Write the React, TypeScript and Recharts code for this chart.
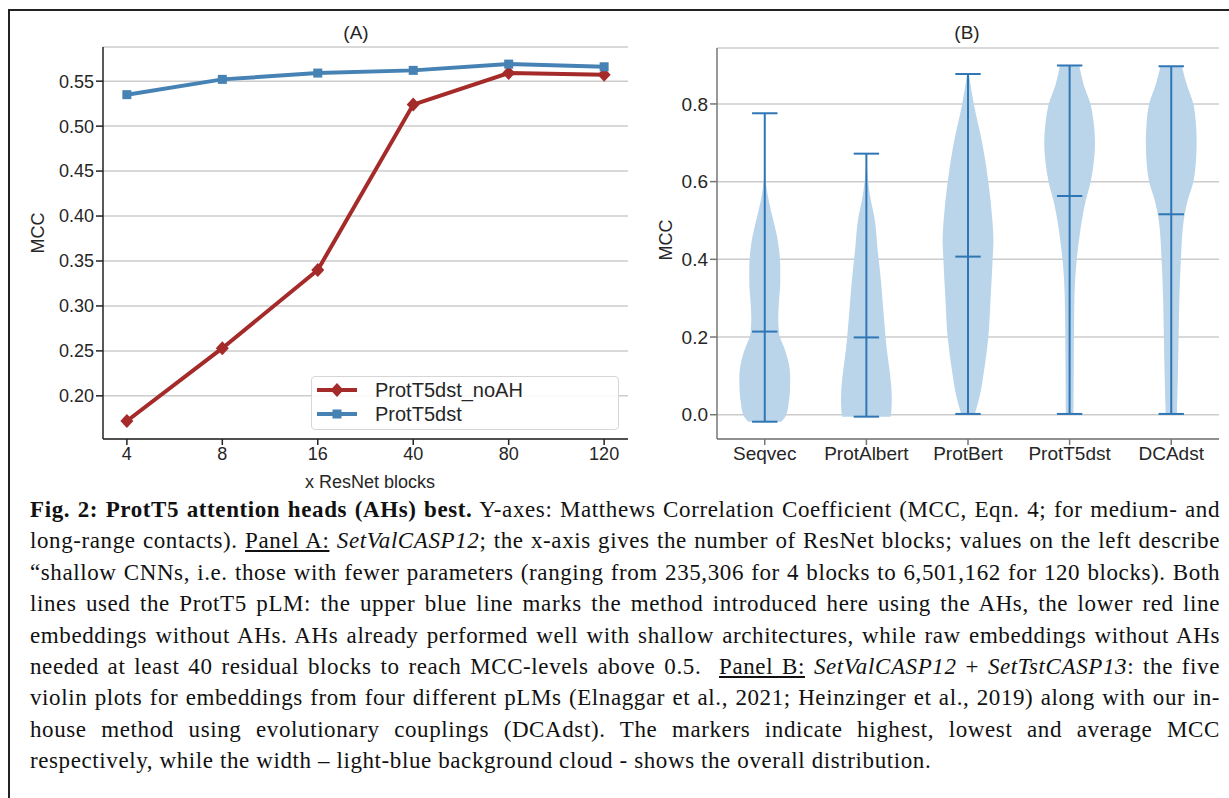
import React from 'react'
import { LineChart, Line, XAxis, YAxis, CartesianGrid, ComposedChart, Area, ReferenceLine } from 'recharts'

// Panel A: MCC vs number of ResNet blocks
const blockLabels = ['4', '8', '16', '40', '80', '120']
const noAhMcc = [0.172, 0.253, 0.34, 0.524, 0.559, 0.557]
const dstMcc = [0.535, 0.552, 0.559, 0.562, 0.569, 0.566]
const panelATicks = [0.2, 0.25, 0.3, 0.35, 0.4, 0.45, 0.5, 0.55]

// Panel B: violins (max / min / mean markers)
const violinNames = ['Seqvec', 'ProtAlbert', 'ProtBert', 'ProtT5dst', 'DCAdst']
const violinMax = [0.776, 0.672, 0.877, 0.899, 0.897]
const violinMin = [-0.018, -0.005, 0.002, 0.002, 0.002]
const violinMean = [0.214, 0.199, 0.407, 0.563, 0.516]
const panelBTicks = [0, 0.2, 0.4, 0.6, 0.8]

// density outlines, relative width (1 = widest part of that violin)
const seqvecLevels = [-0.018, 0.0, 0.03, 0.06, 0.1, 0.13, 0.17, 0.21, 0.25, 0.3, 0.34, 0.38, 0.42, 0.46, 0.51, 0.55, 0.58, 0.6, 0.64, 0.7, 0.776]
const seqvecWidth = [0.65, 0.85, 0.94, 0.99, 1.0, 0.95, 0.78, 0.56, 0.53, 0.57, 0.61, 0.61, 0.57, 0.48, 0.3, 0.16, 0.08, 0.04, 0.015, 0.005, 0.0]
const albertLevels = [-0.005, 0.0, 0.04, 0.08, 0.12, 0.17, 0.25, 0.34, 0.42, 0.51, 0.55, 0.6, 0.64, 0.672]
const albertWidth = [0.95, 0.97, 1.0, 0.97, 0.9, 0.8, 0.69, 0.58, 0.45, 0.31, 0.18, 0.07, 0.02, 0.0]
const bertLevels = [0.002, 0.05, 0.1, 0.2, 0.3, 0.4, 0.45, 0.5, 0.6, 0.7, 0.8, 0.85, 0.877]
const bertWidth = [0.27, 0.47, 0.6, 0.8, 0.89, 0.97, 1.0, 0.96, 0.8, 0.56, 0.23, 0.1, 0.04]
const t5Levels = [0.002, 0.1, 0.2, 0.3, 0.4, 0.45, 0.5, 0.55, 0.6, 0.65, 0.7, 0.75, 0.8, 0.85, 0.899]
const t5Width = [0.15, 0.16, 0.17, 0.19, 0.28, 0.37, 0.48, 0.63, 0.83, 0.95, 1.0, 0.95, 0.82, 0.55, 0.38]
const dcaLevels = [0.002, 0.1, 0.2, 0.3, 0.4, 0.5, 0.55, 0.6, 0.65, 0.7, 0.75, 0.8, 0.85, 0.897]
const dcaWidth = [0.22, 0.26, 0.29, 0.32, 0.38, 0.49, 0.64, 0.87, 0.97, 1.0, 0.97, 0.87, 0.61, 0.42]

const violinProfiles = [
  [seqvecLevels, seqvecWidth],
  [albertLevels, albertWidth],
  [bertLevels, bertWidth],
  [t5Levels, t5Width],
  [dcaLevels, dcaWidth],
]

const RED = '#a52a2a'
const BLUE = '#4682b4'
const VIOLIN_FILL = '#bad5e9'
const VIOLIN_LINE = '#2f76b5'
const GRID = '#cccccc'
const SANS = '"Liberation Sans", Arial, Helvetica, sans-serif'
const TEXT = '#262626'

const lineData = blockLabels.map((label, i) => ({ idx: i, label, noAH: noAhMcc[i], dst: dstMcc[i] }))

const violinData = violinProfiles.map(([levels, widths], i) =>
  levels.map((mcc, k) => ({ mcc, v: [i - 0.25 * widths[k], i + 0.25 * widths[k]] }))
)

const renderDiamond = (p: any) => {
  const { cx, cy, index } = p
  if (cx == null || cy == null) return <g key={`dm${index}`} />
  return <path key={`dm${index}`} d={`M${cx},${cy - 7}L${cx + 6.5},${cy}L${cx},${cy + 7}L${cx - 6.5},${cy}Z`} fill={RED} />
}

const renderSquare = (p: any) => {
  const { cx, cy, index } = p
  if (cx == null || cy == null) return <g key={`sq${index}`} />
  return <rect key={`sq${index}`} x={cx - 4.5} y={cy - 4.5} width={9} height={9} fill={BLUE} />
}

const abs = (left: number, top: number, extra: React.CSSProperties = {}): React.CSSProperties => ({
  position: 'absolute',
  left,
  top,
  ...extra,
})

const centered = (x: number, y: number, size: number, rotate = false): React.CSSProperties => ({
  position: 'absolute',
  left: x,
  top: y,
  transform: `translate(-50%, -50%)${rotate ? ' rotate(-90deg)' : ''}`,
  fontFamily: SANS,
  fontSize: size,
  color: TEXT,
  whiteSpace: 'nowrap',
  lineHeight: 1,
})

function PanelA() {
  const tick = { fontSize: 18, fill: TEXT, fontFamily: SANS }
  return (
    <div style={abs(0, 0)}>
      <LineChart width={650} height={500} data={lineData} margin={{ top: 47, right: 22, left: 43, bottom: 21 }}>
        <CartesianGrid vertical={false} stroke={GRID} strokeWidth={1.5} />
        <XAxis
          dataKey="idx"
          type="number"
          domain={[-0.25, 5.25]}
          ticks={[0, 1, 2, 3, 4, 5]}
          tickFormatter={(v) => blockLabels[v]}
          tick={tick}
          height={40}
          stroke="#222"
          strokeWidth={1.5}
          tickSize={6}
          interval={0}
        />
        <YAxis
          type="number"
          domain={[0.152, 0.588]}
          ticks={panelATicks}
          tickFormatter={(v) => v.toFixed(2)}
          tick={tick}
          width={60}
          stroke="#222"
          strokeWidth={1.5}
          tickSize={7}
          allowDataOverflow
          interval={0}
        />
        <XAxis xAxisId="top" orientation="top" dataKey="idx" type="number" domain={[-0.25, 5.25]} tick={false} tickLine={false} height={0} stroke="#222" strokeWidth={1.5} />
        <YAxis yAxisId="right" orientation="right" type="number" domain={[0.152, 0.588]} tick={false} tickLine={false} width={0} stroke="#222" strokeWidth={1.5} />
        <Line dataKey="noAH" type="linear" stroke={RED} strokeWidth={4} dot={renderDiamond} activeDot={false} isAnimationActive={false} />
        <Line dataKey="dst" type="linear" stroke={BLUE} strokeWidth={4} dot={renderSquare} activeDot={false} isAnimationActive={false} />
      </LineChart>
      <div style={centered(356, 32, 19)}>(A)</div>
      <div style={centered(38, 233, 18, true)}>MCC</div>
      <div style={centered(370, 482, 18)}>x ResNet blocks</div>
      <div
        style={abs(311, 376, {
          width: 306,
          height: 52,
          border: '1px solid #d6d6d6',
          borderRadius: 4,
          background: 'rgba(255,255,255,0.85)',
        })}
      >
        <svg width={50} height={52} style={{ position: 'absolute', left: 3, top: 0 }}>
          <line x1={2} y1={13} x2={42} y2={13} stroke={RED} strokeWidth={4} />
          <path d="M22,6L28.5,13L22,20L15.5,13Z" fill={RED} />
          <line x1={2} y1={37} x2={42} y2={37} stroke={BLUE} strokeWidth={4} />
          <rect x={17.5} y={32.5} width={9} height={9} fill={BLUE} />
        </svg>
        <div style={{ position: 'absolute', left: 63, top: 1, fontFamily: SANS, fontSize: 20, color: TEXT, lineHeight: '24px' }}>
          ProtT5dst_noAH
        </div>
        <div style={{ position: 'absolute', left: 63, top: 25, fontFamily: SANS, fontSize: 20, color: TEXT, lineHeight: '24px' }}>
          ProtT5dst
        </div>
      </div>
    </div>
  )
}

function PanelB() {
  const tick = { fontSize: 19, fill: TEXT, fontFamily: SANS }
  return (
    <div style={abs(640, 0)}>
      <ComposedChart layout="vertical" width={589} height={500} margin={{ top: 48, right: 10, left: 27, bottom: 21 }}>
        <CartesianGrid vertical={false} stroke={GRID} strokeWidth={1.5} />
        <XAxis
          type="number"
          domain={[-0.47, 4.47]}
          ticks={[0, 1, 2, 3, 4]}
          tickFormatter={(v) => violinNames[v]}
          tick={tick}
          height={40}
          stroke="#777"
          strokeWidth={1.5}
          tickSize={6}
          allowDataOverflow
          interval={0}
        />
        <YAxis
          type="number"
          dataKey="mcc"
          domain={[-0.0625, 0.944]}
          ticks={panelBTicks}
          tickFormatter={(v) => v.toFixed(1)}
          tick={tick}
          width={50}
          stroke="#777"
          strokeWidth={1.5}
          tickSize={7}
          reversed
          allowDataOverflow
          interval={0}
        />
        <XAxis xAxisId="top" orientation="top" type="number" domain={[-0.47, 4.47]} tick={false} tickLine={false} height={0} stroke="#777" strokeWidth={1.5} allowDataOverflow />
        <YAxis yAxisId="right" orientation="right" type="number" domain={[-0.0625, 0.944]} tick={false} tickLine={false} width={0} stroke="#777" strokeWidth={1.5} reversed allowDataOverflow />
        {violinData.map((d, i) => (
          <Area
            key={violinNames[i]}
            data={d}
            dataKey="v"
            type="monotone"
            fill={VIOLIN_FILL}
            fillOpacity={1}
            stroke="none"
            activeDot={false}
            dot={false}
            isAnimationActive={false}
          />
        ))}
        {violinNames.map((n, i) => (
          <ReferenceLine key={`stem${n}`} segment={[{ x: i, y: violinMin[i] }, { x: i, y: violinMax[i] }]} stroke={VIOLIN_LINE} strokeWidth={2} />
        ))}
        {[violinMax, violinMin, violinMean].map((vals, j) =>
          violinNames.map((n, i) => (
            <ReferenceLine
              key={`cap${j}${n}`}
              segment={[{ x: i - 0.125, y: vals[i] }, { x: i + 0.125, y: vals[i] }]}
              stroke={VIOLIN_LINE}
              strokeWidth={2}
            />
          ))
        )}
      </ComposedChart>
      <div style={centered(327, 32, 19)}>(B)</div>
      <div style={centered(26, 240, 18, true)}>MCC</div>
    </div>
  )
}

const captionLine: React.CSSProperties = {
  height: 31.4,
  lineHeight: '31.4px',
  whiteSpace: 'nowrap',
  textAlign: 'justify',
  textAlignLast: 'justify',
}

function Caption() {
  const lines: React.ReactNode[] = [
    <>
      <b>Fig. 2: ProtT5 attention heads (AHs) best.</b> Y-axes: Matthews Correlation Coefficient (MCC, Eqn. 4; for medium- and
    </>,
    <>
      long-range contacts). <u>Panel A:</u> <i>SetValCASP12</i>; the x-axis gives the number of ResNet blocks; values on the left describe
    </>,
    <>“shallow CNNs, i.e. those with fewer parameters (ranging from 235,306 for 4 blocks to 6,501,162 for 120 blocks). Both</>,
    <>lines used the ProtT5 pLM: the upper blue line marks the method introduced here using the AHs, the lower red line</>,
    <>embeddings without AHs. AHs already performed well with shallow architectures, while raw embeddings without AHs</>,
    <>
      needed at least 40 residual blocks to reach MCC-levels above 0.5.{'\u00a0\u00a0'}<u>Panel B:</u> <i>SetValCASP12</i> + <i>SetTstCASP13</i>: the five
    </>,
    <>violin plots for embeddings from four different pLMs (Elnaggar et al., 2021; Heinzinger et al., 2019) along with our in-</>,
    <>house method using evolutionary couplings (DCAdst). The markers indicate highest, lowest and average MCC</>,
  ]
  return (
    <div
      style={abs(30, 494, {
        width: 1190,
        fontFamily: '"Liberation Serif", "Times New Roman", serif',
        fontSize: 23,
        letterSpacing: 0.6,
        color: '#111',
      })}
    >
      {lines.map((l, i) => (
        <div key={i} style={captionLine}>
          {l}
        </div>
      ))}
      <div style={{ ...captionLine, textAlign: 'left', textAlignLast: 'left' }}>
        respectively, while the width – light-blue background cloud - shows the overall distribution.
      </div>
    </div>
  )
}

export default function App() {
  return (
    <div style={{ position: 'absolute', left: 0, top: 0, width: 1229, height: 798, overflow: 'hidden', background: '#fff' }}>
      <div style={abs(8, 9, { width: 1240, height: 800, borderTop: '2px solid #222', borderLeft: '2px solid #222' })} />
      <PanelA />
      <PanelB />
      <Caption />
    </div>
  )
}
